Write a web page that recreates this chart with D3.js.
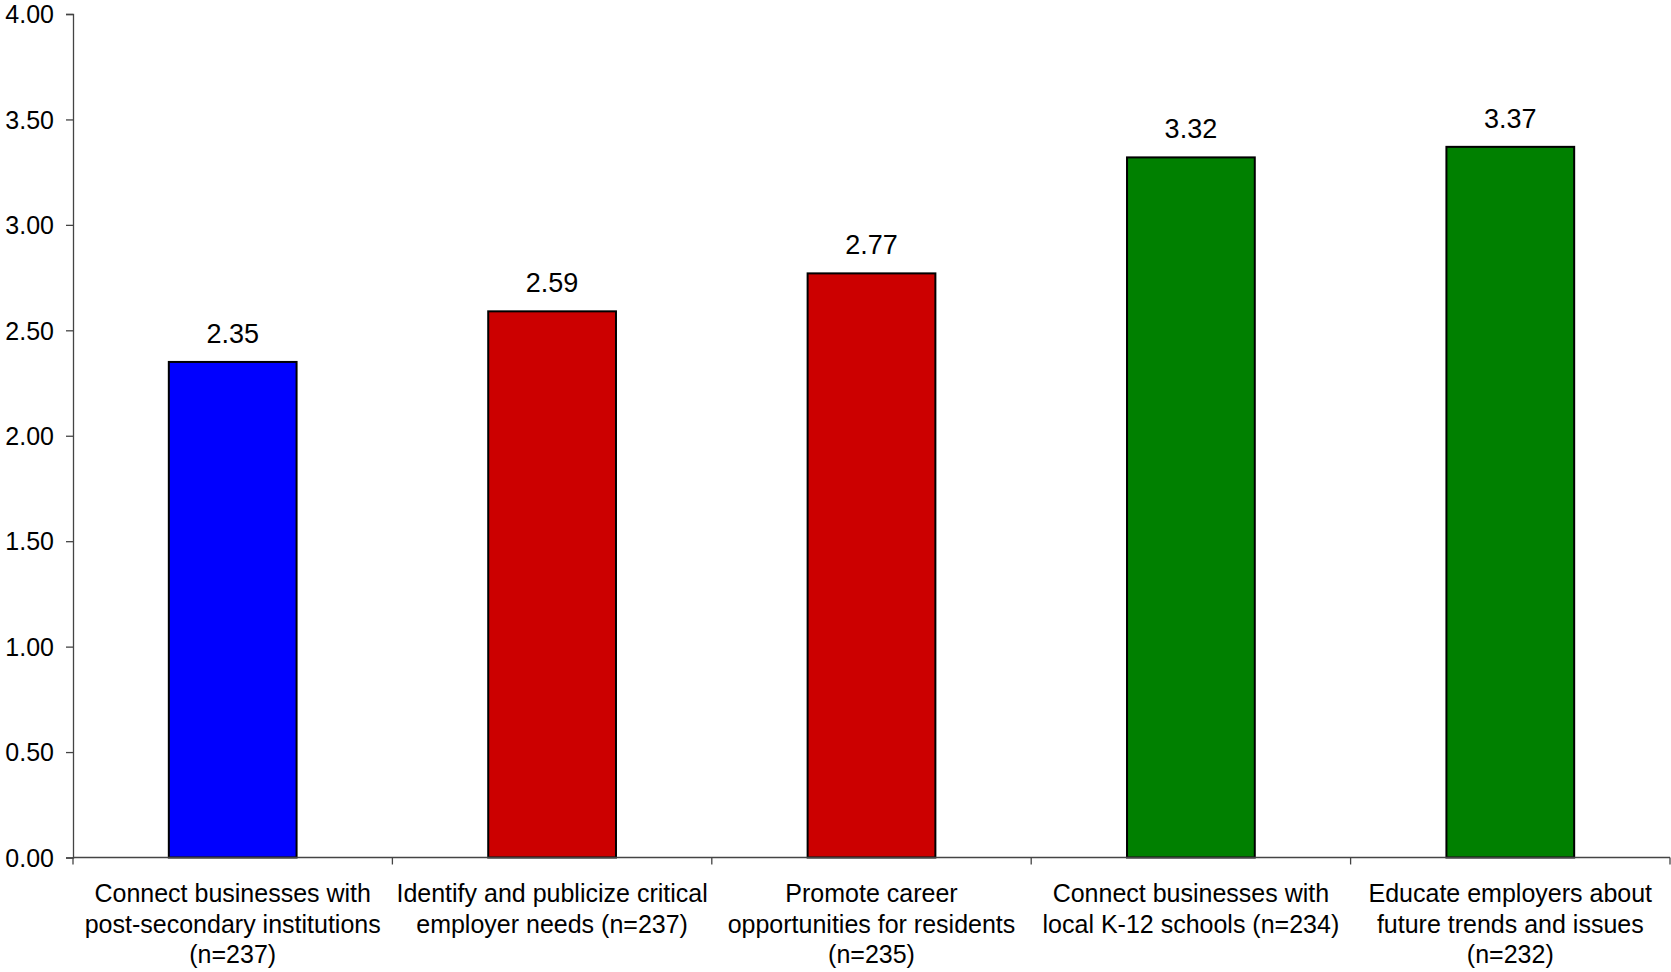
<!DOCTYPE html>
<html><head><meta charset="utf-8">
<script src="https://cdn.jsdelivr.net/npm/d3@7"></script>
<style>html,body{margin:0;padding:0;background:#fff;}svg{display:block;font-family:"Liberation Sans",Arial,sans-serif;}</style>
</head><body>
<svg id="chart" width="1671" height="972"></svg>
<script>
const categories = [
  ["Connect businesses with", "post-secondary institutions", "(n=237)"],
  ["Identify and publicize critical", "employer needs (n=237)"],
  ["Promote career", "opportunities for residents", "(n=235)"],
  ["Connect businesses with", "local K-12 schools (n=234)"],
  ["Educate employers about", "future trends and issues", "(n=232)"]
];
const values = [2.35, 2.59, 2.77, 3.32, 3.37];
const barColors = ["#0000FF", "#CC0000", "#CC0000", "#008000", "#008000"];
const yTicks = [0, 0.5, 1, 1.5, 2, 2.5, 3, 3.5, 4];

(function() {
const svg = d3.select("#chart");
const mLeft = 73, mRight = 1670, mTop = 14, mBottom = 857.5;
const idx = d3.range(values.length);
const x = d3.scaleBand().domain(idx).range([mLeft, mRight]).padding(0);
const y = d3.scaleLinear().domain([0, 4]).range([mBottom, mTop]);
const axisColor = "#444";

// bars
const bw = x.bandwidth() * 0.4;
svg.append("g").selectAll("rect").data(idx).join("rect")
  .attr("x", i => x(i) + x.bandwidth()/2 - bw/2)
  .attr("y", i => y(values[i]))
  .attr("width", bw)
  .attr("height", i => y(0) - y(values[i]))
  .attr("fill", i => barColors[i])
  .attr("stroke", "#000").attr("stroke-width", 2);

// value labels
svg.append("g").selectAll("text").data(idx).join("text")
  .attr("x", i => x(i) + x.bandwidth()/2)
  .attr("y", i => y(values[i]) - 19)
  .attr("text-anchor", "middle")
  .attr("font-size", 27)
  .attr("fill", "#000")
  .text(i => values[i].toFixed(2));

// y axis
const yAxis = d3.axisLeft(y).tickValues(yTicks).tickFormat(d3.format(".2f")).tickSize(7).tickPadding(12);
const gy = svg.append("g").attr("transform", `translate(${mLeft},0)`).call(yAxis);
gy.select(".domain").attr("stroke", axisColor).attr("stroke-width", 1.3);
gy.selectAll(".tick line").attr("stroke", axisColor).attr("stroke-width", 1.3);
gy.selectAll(".tick text").attr("font-size", 25).attr("fill", "#000").attr("font-family", "Liberation Sans, Arial, sans-serif").attr("dy", "0.35em");

// x axis
const xEdges = d3.scaleLinear().domain([0, values.length]).range([mLeft, mRight]);
const gx = svg.append("g").attr("transform", `translate(0,${mBottom})`);
gx.append("line").attr("x1", mLeft).attr("x2", mRight).attr("y1", 0).attr("y2", 0)
  .attr("stroke", axisColor).attr("stroke-width", 1.3);
gx.selectAll("line.tk").data(d3.range(values.length + 1)).join("line").attr("class", "tk")
  .attr("x1", d => xEdges(d)).attr("x2", d => xEdges(d)).attr("y1", 0).attr("y2", 7)
  .attr("stroke", axisColor).attr("stroke-width", 1.3);

// category labels
const lab = svg.append("g").selectAll("text").data(idx).join("text")
  .attr("text-anchor", "middle")
  .attr("font-size", 25)
  .attr("fill", "#000");
lab.each(function(i) {
  const t = d3.select(this);
  categories[i].forEach((line, k) => {
    t.append("tspan").attr("x", x(i) + x.bandwidth()/2).attr("y", 902 + k * 30.5).text(line);
  });
});
})();
</script>
</body></html>
